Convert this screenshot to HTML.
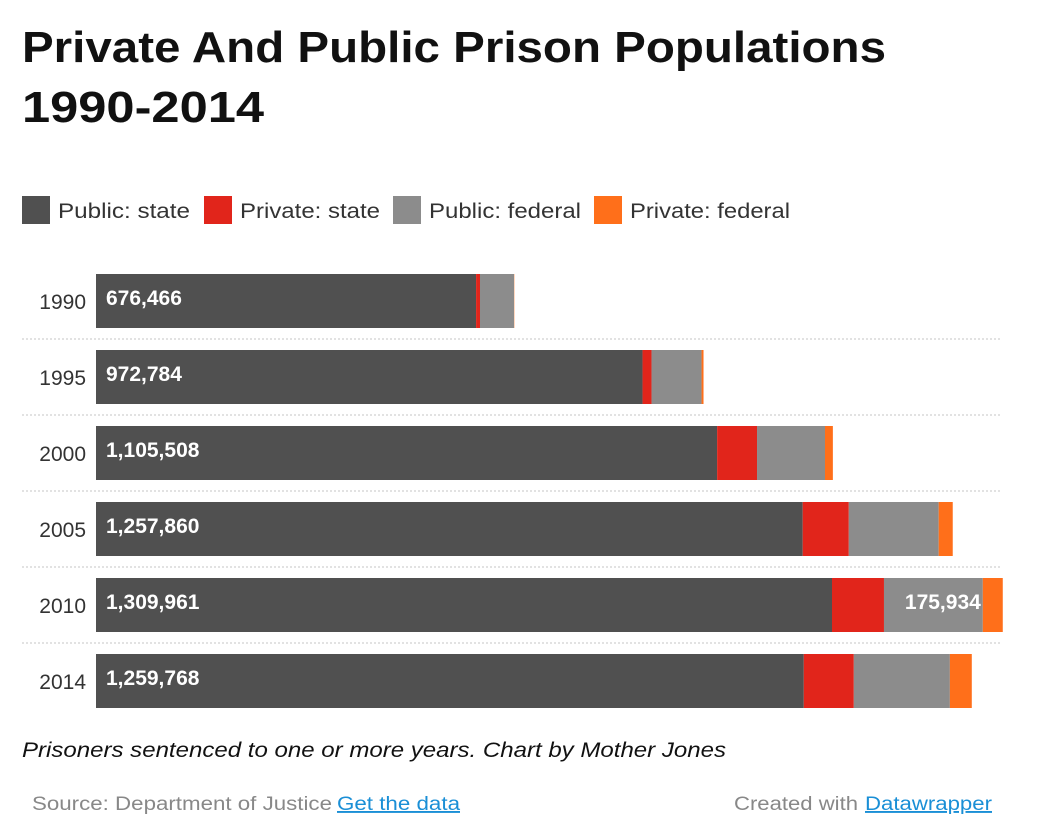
<!DOCTYPE html>
<html><head><meta charset="utf-8"><style>
body{margin:0;background:#fff;}
svg{display:block;font-family:"Liberation Sans",Arial,sans-serif;}
</style></head><body>
<svg id="chart" width="1050" height="836" viewBox="0 0 1050 836">
<text x="22" y="62" font-size="44" font-weight="bold" fill="#111" textLength="864" lengthAdjust="spacingAndGlyphs">Private And Public Prison Populations</text>
<text x="22" y="122" font-size="44" font-weight="bold" fill="#111" textLength="242" lengthAdjust="spacingAndGlyphs">1990-2014</text>
<g id="legend"></g>
<g id="rows"></g>
<text x="22" y="757" font-size="21" font-style="italic" fill="#111" textLength="704" lengthAdjust="spacingAndGlyphs">Prisoners sentenced to one or more years. Chart by Mother Jones</text>
<text x="32" y="810" font-size="19" fill="#888" textLength="300" lengthAdjust="spacingAndGlyphs">Source: Department of Justice</text>
<text x="337" y="810" font-size="19" fill="#1a8fd6" text-decoration="underline" textLength="123" lengthAdjust="spacingAndGlyphs">Get the data</text>
<text x="734" y="810" font-size="19" fill="#888" textLength="124" lengthAdjust="spacingAndGlyphs">Created with</text>
<text x="865" y="810" font-size="19" fill="#1a8fd6" text-decoration="underline" textLength="127" lengthAdjust="spacingAndGlyphs">Datawrapper</text>
</svg>
<script>
const years = ["1990","1995","2000","2005","2010","2014"];
const publicState = [676466, 972784, 1105508, 1257860, 1309961, 1259768];
const privateState = [7000, 16000, 71000, 82000, 92500, 89000];
const publicFederal = [60500, 89000, 121000, 160000, 175934, 171000];
const privateFederal = [500, 3500, 14000, 25000, 35500, 39000];
const seriesNames = ["Public: state","Private: state","Public: federal","Private: federal"];
const seriesColors = ["#505050","#e1251b","#8c8c8c","#ff6f1a"];
const series = [publicState, privateState, publicFederal, privateFederal];

const NS = "http://www.w3.org/2000/svg";
const x0 = 96, pxPerUnit = 736/1309961;
const xScale = v => v * pxPerUnit;
const rowTop = 274, rowStep = 76, barH = 54;

const legend = document.getElementById('legend');
const legendX = [22, 204, 393, 594];
const legendW = [132, 140, 152, 160];
seriesNames.forEach((n,i)=>{
  const r = document.createElementNS(NS,'rect');
  r.setAttribute('x',legendX[i]); r.setAttribute('y',196); r.setAttribute('width',28); r.setAttribute('height',28);
  r.setAttribute('fill',seriesColors[i]);
  
  
  legend.appendChild(r);
  const t = document.createElementNS(NS,'text');
  t.setAttribute('x',legendX[i]+36); t.setAttribute('y',218); t.setAttribute('font-size','21'); t.setAttribute('fill','#333');
  t.setAttribute('textLength', legendW[i]); t.setAttribute('lengthAdjust','spacingAndGlyphs');
  t.textContent = n;
  
  
  legend.appendChild(t);
});

const rows = document.getElementById('rows');
years.forEach((y,i)=>{
  const top = rowTop + i*rowStep;
  if(i>0){
    const l = document.createElementNS(NS,'line');
    l.setAttribute('x1',22); l.setAttribute('x2',1002); l.setAttribute('y1',top-11); l.setAttribute('y2',top-11);
    l.setAttribute('stroke','#d8d8d8'); l.setAttribute('stroke-width','1.5'); l.setAttribute('stroke-dasharray','2 2');
    
    
    rows.appendChild(l);
  }
  const yl = document.createElementNS(NS,'text');
  yl.setAttribute('x',86); yl.setAttribute('y',top+35); yl.setAttribute('text-anchor','end');
  yl.setAttribute('font-size','21'); yl.setAttribute('fill','#333'); yl.textContent = y;
  
  
  rows.appendChild(yl);
  let acc = 0;
  series.forEach((s,j)=>{
    const r = document.createElementNS(NS,'rect');
    r.setAttribute('x', x0 + xScale(acc)); r.setAttribute('y', top);
    r.setAttribute('width', xScale(s[i])); r.setAttribute('height', barH);
    r.setAttribute('fill', seriesColors[j]);
    
    
    rows.appendChild(r);
    acc += s[i];
  });
  const v = document.createElementNS(NS,'text');
  v.setAttribute('x',106); v.setAttribute('y',top+31); v.setAttribute('font-size','21'); v.setAttribute('font-weight','bold'); v.setAttribute('fill','#fff');
  v.textContent = publicState[i].toLocaleString('en-US');
  
  
  rows.appendChild(v);
  if(y==="2010"){
    const f = document.createElementNS(NS,'text');
    f.setAttribute('x', x0 + xScale(publicState[i]+privateState[i]+publicFederal[i]) - 2);
    f.setAttribute('y', top+31); f.setAttribute('text-anchor','end');
    f.setAttribute('font-size','21'); f.setAttribute('font-weight','bold'); f.setAttribute('fill','#fff');
    f.textContent = publicFederal[i].toLocaleString('en-US');
    
    
    rows.appendChild(f);
  }
});
</script>
</body></html>
